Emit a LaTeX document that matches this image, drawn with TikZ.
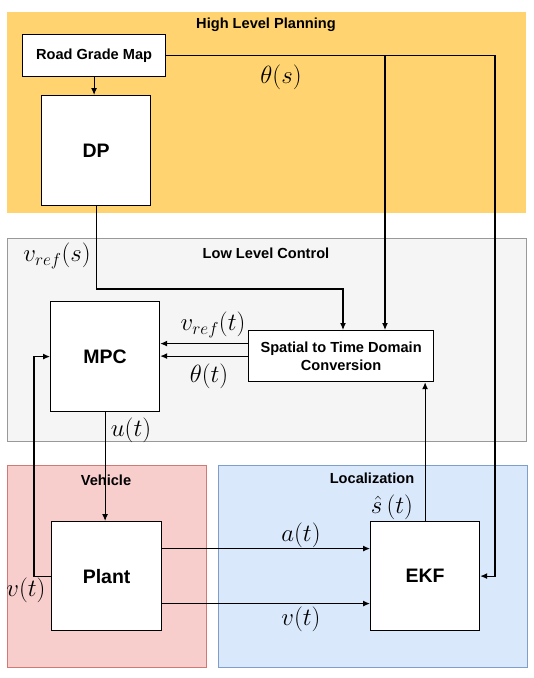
\documentclass[tikz,border=0pt]{standalone}
\usepackage{fontspec}
\setmainfont{Liberation Sans}
\usetikzlibrary{arrows.meta,calc}
\definecolor{hlp}{HTML}{FFD470}
\definecolor{llcfill}{HTML}{F5F5F5}
\definecolor{llcdraw}{HTML}{999999}
\definecolor{vehfill}{HTML}{F8CECC}
\definecolor{vehdraw}{HTML}{D07A76}
\definecolor{locfill}{HTML}{DAE8FC}
\definecolor{locdraw}{HTML}{7E9FCC}
\tikzset{
  group/.style={rectangle, inner sep=0, anchor=north west},
  blk/.style={rectangle, draw=black, fill=white, line width=1.2pt, inner sep=0, anchor=north west, font=\fontsize{19.5}{22}\selectfont\bfseries, align=center},
  sblk/.style={blk, font=\fontsize{14.6}{18}\selectfont\bfseries},
  title/.style={font=\fontsize{14.6}{17}\selectfont\bfseries, inner sep=0},
  lab/.style={font=\fontsize{23.5}{26}\selectfont, inner sep=0},
  arr/.style={line width=1.1pt, -{Latex[length=7pt,width=6pt]}},
  ln/.style={line width=1.1pt}
}
\begin{document}
\begin{tikzpicture}[x=1pt,y=-1pt]
\useasboundingbox (0,0) rectangle (534,678);
% groups
\node[group, fill=hlp, minimum width=519pt, minimum height=201pt] (ghlp) at (7,12) {};
\node[group, fill=llcfill, draw=llcdraw, line width=1pt, minimum width=519pt, minimum height=203pt] (gllc) at (7,238) {};
\node[group, fill=vehfill, draw=vehdraw, line width=1pt, minimum width=199pt, minimum height=202pt] (gveh) at (7,465) {};
\node[group, fill=locfill, draw=locdraw, line width=1pt, minimum width=309pt, minimum height=202pt] (gloc) at (218,465) {};
% titles
\node[title] (thlp) at (266,25) {High Level Planning};
\node[title] (tllc) at (266,253) {Low Level Control};
\node[title] (tveh) at (106,480) {Vehicle};
\node[title] (tloc) at (372,478) {Localization};
% blocks
\node[sblk, minimum width=143pt, minimum height=42pt] (rgm) at (22,34) {Road Grade Map};
\node[blk, minimum width=109pt, minimum height=110pt] (dp) at (41,95) {DP};
\node[blk, minimum width=109pt, minimum height=110pt] (mpc) at (50,301) {MPC};
\node[sblk, minimum width=185pt, minimum height=51pt] (spatial) at (248,330) {Spatial to Time Domain\\Conversion};
\node[blk, minimum width=110pt, minimum height=109pt] (plant) at (51,521) {Plant};
\node[blk, minimum width=109pt, minimum height=109pt] (ekf) at (370,521) {EKF};
% helper coordinates
\coordinate (c1) at (385,0);
\coordinate (c2) at (495,0);
\coordinate (c3) at (343,289);
\coordinate (c4) at (34,0);
% connectors
\draw[arr] (rgm.south) -- (rgm.south |- dp.north);
\draw[arr] (rgm.east) -| (c1 |- spatial.north);
\draw[arr] (rgm.east) -| (c2 |- ekf.east) -- (ekf.east);
\draw[arr] (dp.south) |- (c3) -- (c3 |- spatial.north);
\draw[arr] ([yshift=12.5pt]spatial.west) -- ([yshift=12.5pt]spatial.west -| mpc.east);
\draw[arr] (spatial.west) -- (spatial.west -| mpc.east);
\draw[arr] (plant.west) -| (c4 |- mpc.west) -- (mpc.west);
\draw[arr] (mpc.south) -- (mpc.south |- plant.north);
\draw[arr] ([yshift=27.5pt]plant.east) -- ([yshift=27.5pt]plant.east -| ekf.west);
\draw[arr] ([yshift=-27.5pt]plant.east) -- ([yshift=-27.5pt]plant.east -| ekf.west);
\draw[arr] (ekf.north) -- (ekf.north |- spatial.south);
% labels
\node[lab] (lths) at (281,77) {$\theta(s)$};
\node[lab] (lvrefs) at (57,256) {$v_{ref}(s)$};
\node[lab] (lvreft) at (213,325) {$v_{ref}(t)$};
\node[lab] (ltht) at (209,376) {$\theta(t)$};
\node[lab] (lut) at (131,430) {$u(t)$};
\node[lab] (lat) at (301,535) {$a(t)$};
\node[lab] (lvt) at (301,619) {$v(t)$};
\node[lab] (lvtl) at (26,590) {$v(t)$};
\node[lab] (lst) at (392,507) {$\hat{s}\,(t)$};
\end{tikzpicture}
\end{document}
